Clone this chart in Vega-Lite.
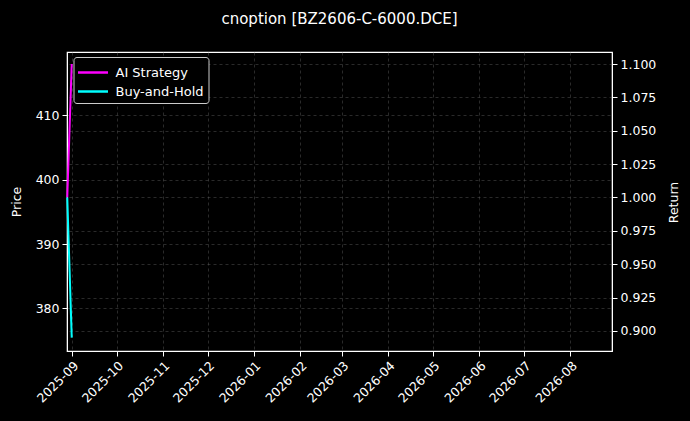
{
  "$schema": "https://vega.github.io/schema/vega-lite/v6.json",
  "width": 545,
  "height": 299,
  "autosize": {"type": "none"},
  "padding": {"left": 67, "top": 52, "right": 78, "bottom": 70},
  "background": "black",
  "title": {
    "text": "cnoption [BZ2606-C-6000.DCE]",
    "color": "white",
    "font": "DejaVu Sans",
    "fontSize": 15,
    "fontWeight": "normal",
    "anchor": "middle",
    "offset": 25
  },
  "datasets": {
    "price": [
      {"date": "2025-08-29", "price": 400.0},
      {"date": "2025-09-01", "price": 375.5}
    ],
    "returns": [
      {"date": "2025-08-29", "series": "AI Strategy", "value": 1.0},
      {"date": "2025-09-01", "series": "AI Strategy", "value": 1.1},
      {"date": "2025-08-29", "series": "Buy-and-Hold", "value": 1.0},
      {"date": "2025-09-01", "series": "Buy-and-Hold", "value": 0.895}
    ]
  },
  "layer": [
    {
      "data": {"name": "price"},
      "mark": {"type": "line", "opacity": 0},
      "encoding": {
        "x": {
          "field": "date",
          "type": "temporal",
          "scale": {
            "domain": [
              {"year": 2025, "month": 8, "date": 28, "hours": 20, "utc": true},
              {"year": 2026, "month": 8, "date": 29, "utc": true}
            ]
          },
          "axis": {
            "title": null,
            "format": "%Y-%m",
            "tickCount": {"interval": "month", "step": 1},
            "labelAngle": -45,
            "labelAlign": "right",
            "labelBaseline": "top",
            "labelOverlap": false,
            "grid": true
          }
        },
        "y": {
          "field": "price",
          "type": "quantitative",
          "scale": {"domain": [373.4, 419.8], "nice": false, "zero": false},
          "axis": {
            "orient": "left",
            "title": "Price",
            "values": [380, 390, 400, 410],
            "format": "d",
            "grid": true,
            "titlePadding": 12
          }
        }
      }
    },
    {
      "data": {"name": "returns"},
      "mark": {"type": "line", "strokeWidth": 2},
      "encoding": {
        "x": {"field": "date", "type": "temporal"},
        "y": {
          "field": "value",
          "type": "quantitative",
          "scale": {"domain": [0.885, 1.109], "nice": false, "zero": false},
          "axis": {
            "orient": "right",
            "title": "Return",
            "values": [0.9, 0.925, 0.95, 0.975, 1.0, 1.025, 1.05, 1.075, 1.1],
            "format": ".3f",
            "grid": true,
            "titleAngle": 270,
            "titleX": 61,
            "titleY": 150,
            "titleAlign": "center",
            "titleBaseline": "middle"
          }
        },
        "color": {
          "field": "series",
          "type": "nominal",
          "scale": {"domain": ["AI Strategy", "Buy-and-Hold"], "range": ["#ff00ff", "#00ffff"]},
          "legend": {
            "orient": "none",
            "legendX": 6.5,
            "legendY": 5,
            "title": null,
            "direction": "vertical",
            "fillColor": "black",
            "strokeColor": "#cccccc",
            "cornerRadius": 3,
            "padding": 4,
            "symbolType": "M-1.5,0H1.5",
            "symbolSize": 400,
            "symbolOffset": 4,
            "symbolStrokeWidth": 2.5,
            "labelColor": "white",
            "labelFont": "DejaVu Sans",
            "labelFontSize": 13,
            "labelOffset": 11,
            "rowPadding": 0
          }
        }
      }
    }
  ],
  "resolve": {"scale": {"y": "independent"}},
  "config": {
    "view": {"stroke": "white", "strokeWidth": 1.2},
    "axis": {
      "labelColor": "white",
      "titleColor": "white",
      "domainColor": "white",
      "tickColor": "white",
      "tickSize": 5,
      "labelPadding": 3,
      "labelFont": "DejaVu Sans",
      "labelFontSize": 12.5,
      "titleFont": "DejaVu Sans",
      "titleFontSize": 12.5,
      "titleFontWeight": "normal",
      "gridColor": "#666666",
      "gridDash": [3, 3],
      "gridOpacity": 0.6,
      "gridWidth": 0.7
    }
  }
}
